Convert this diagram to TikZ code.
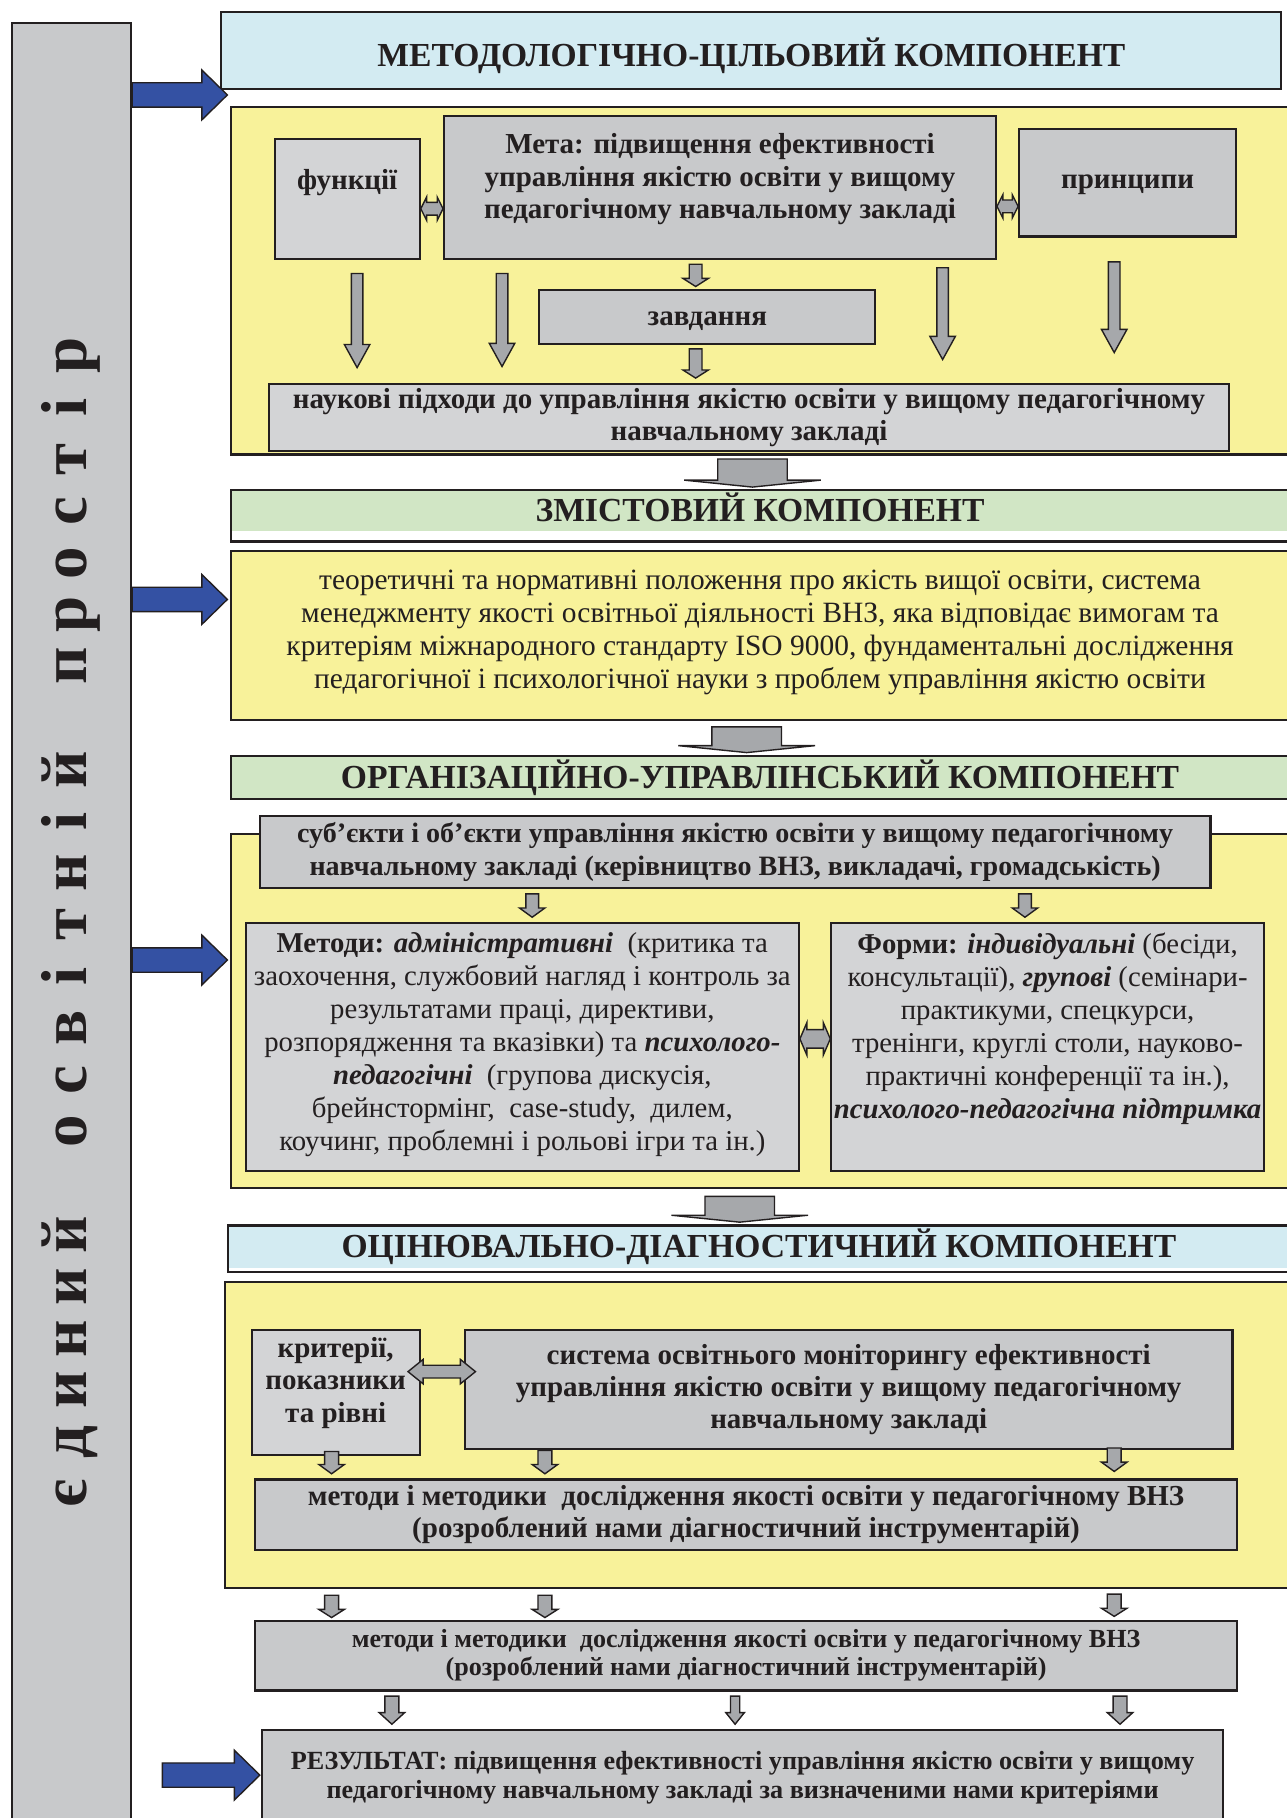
\documentclass[tikz,border=0pt]{standalone}
\usepackage{fontspec}
\setmainfont{Liberation Serif}
\usetikzlibrary{calc}

\definecolor{edge}{HTML}{231F20}
\definecolor{barGray}{HTML}{C8C9CB}
\definecolor{boxGray}{HTML}{C8C9CB}
\definecolor{boxLight}{HTML}{D3D4D6}
\definecolor{titleBlue}{HTML}{D3EBF2}
\definecolor{titleGreen}{HTML}{D1E6C5}
\definecolor{yellowBg}{HTML}{F8F29A}
\definecolor{arrowGray}{HTML}{A6A8AB}
\definecolor{arrowBlue}{HTML}{3451A3}

\newcommand\downarr[5]{%
  \draw[blockarr] let \p1=(#1), \p2=(#2) in
    (\x1-#3,\y1) -- (\x1+#3,\y1) -- (\x1+#3,\y2+#5) -- (\x1+#4,\y2+#5)
    -- (\x1,\y2) -- (\x1-#4,\y2+#5) -- (\x1-#3,\y2+#5) -- cycle;}
\newcommand\rightarr[5]{%
  \draw[bluearr] let \p1=(#1), \p2=(#2) in
    (\x1,\y1-#3) -- (\x2-#5,\y1-#3) -- (\x2-#5,\y1-#4) -- (\x2,\y1)
    -- (\x2-#5,\y1+#4) -- (\x2-#5,\y1+#3) -- (\x1,\y1+#3) -- cycle;}
\newcommand\dblarr[5]{%
  \draw[blockarr] let \p1=(#1), \p2=(#2) in
    (\x1,\y1) -- (\x1+#5,\y1+#4) -- (\x1+#5,\y1+#3) -- (\x2-#5,\y1+#3)
    -- (\x2-#5,\y1+#4) -- (\x2,\y1) -- (\x2-#5,\y1-#4) -- (\x2-#5,\y1-#3)
    -- (\x1+#5,\y1-#3) -- (\x1+#5,\y1-#4) -- cycle;}
\newcommand\vl[1]{\makebox[22.3pt]{#1}}

\begin{document}
\begin{tikzpicture}[x=0.5pt,y=-0.5pt,
  box/.style={draw=edge,line width=0.9pt,text=edge,align=center,inner sep=0pt},
  ttl/.style={box,font=\fontsize{14.5}{17}\selectfont\bfseries,text height=9.6pt,text depth=0pt},
  bg/.style={box,fill=yellowBg},
  gbox/.style={box,fill=boxGray,font=\fontsize{12.5}{14}\selectfont\bfseries},
  lbox/.style={box,fill=boxLight,font=\fontsize{12.5}{14}\selectfont\bfseries},
  txt/.style={font=\fontsize{12.7}{14.25}\selectfont},
  strip/.style 2 args={fill=white,path picture={\fill[#1] (path picture bounding box.north west) rectangle ([yshift=#2]path picture bounding box.south east);}},
  blockarr/.style={draw=edge,fill=arrowGray,line width=0.6pt},
  bluearr/.style={draw=edge,fill=arrowBlue,line width=0.6pt}]
\useasboundingbox (0,0) rectangle (1110,1568);

\node[box,fill=barGray,rotate=90,minimum width=777.5pt,minimum height=51.5pt,font=\fontsize{28}{28}\selectfont\bfseries] (bar) at (61.5,797.5)
  {\vl{є}\vl{д}\vl{и}\vl{н}\vl{и}\vl{й}\vl{}\vl{о}\vl{с}\vl{в}\vl{і}\vl{т}\vl{н}\vl{і}\vl{й}\vl{}\vl{п}\vl{р}\vl{о}\vl{с}\vl{т}\vl{і}\vl{р}};

\node[ttl,fill=titleBlue,minimum width=457pt,minimum height=33.5pt,text height=14.1pt] (t1) at (648,43.5) {МЕТОДОЛОГІЧНО-ЦІЛЬОВИЙ КОМПОНЕНТ};

\node[bg,minimum width=456.5pt,minimum height=150pt] (y1) at (655.5,242) {};
\node[lbox,minimum width=62.5pt,minimum height=51.5pt,text height=5pt,text depth=13pt] (fun) at (299.5,171.5) {функції};
\node[gbox,minimum width=238pt,minimum height=61.5pt] (meta) at (621,161.5) {Мета: підвищення ефективності\\ управління якістю освіти у вищому\\ педагогічному навчальному закладі\\[-4.5pt]\mbox{}};
\node[gbox,minimum width=93.5pt,minimum height=46.5pt,text height=5.5pt,text depth=0pt] (prin) at (972.5,157.5) {принципи};
\node[gbox,minimum width=145pt,minimum height=23.5pt,text height=7pt,text depth=0pt] (zav) at (610,273.5) {завдання};
\node[lbox,minimum width=414pt,minimum height=29pt] (nauk) at (646,360) {наукові підходи до управління якістю освіти у вищому педагогічному\\ навчальному закладі};
\downarr{$(meta.south)+(-10.5pt,-2pt)$}{$(zav.north)+(0pt,1pt)$}{2.75pt}{5.5pt}{3.5pt}
\downarr{$(zav.south)+(-5pt,-1.5pt)$}{$(nauk.north)+(0pt,2pt)$}{2.75pt}{5.5pt}{3.5pt}
\downarr{$(fun.south)+(4.25pt,-6pt)$}{$(nauk.north)+(0pt,6.5pt)$}{2.5pt}{5.5pt}{10pt}
\downarr{$(meta.south)+(-94pt,-6pt)$}{$(nauk.north)+(0pt,7pt)$}{2.5pt}{5.5pt}{10pt}
\downarr{$(meta.south)+(96pt,-3.5pt)$}{$(nauk.north)+(0pt,10pt)$}{2.5pt}{5.5pt}{10pt}
\downarr{$(prin.south)+(-5.75pt,-10.5pt)$}{$(nauk.north)+(0pt,13pt)$}{2.5pt}{5.5pt}{10pt}
\dblarr{$(fun.east)+(0pt,-4.25pt)$}{meta.west}{2.75pt}{5pt}{2.5pt}
\dblarr{$(meta.east)+(0pt,-8.25pt)$}{prin.west}{2.75pt}{5pt}{2.5pt}

\node[ttl,strip={titleGreen}{4.5pt},minimum width=456.5pt,minimum height=22pt,text depth=5pt] (t2) at (655.5,445) {ЗМІСТОВИЙ КОМПОНЕНТ};
\downarr{$(y1.south)+(-3.25pt,-1.5pt)$}{$(t2.north)+(0pt,1pt)$}{15pt}{29.5pt}{3pt}

\node[bg,txt,minimum width=456.5pt,minimum height=73pt] (y2) at (655.5,548) {теоретичні та нормативні положення про якість вищої освіти, система\\ менеджменту якості освітньої діяльності ВНЗ, яка відповідає вимогам та\\ критеріям міжнародного стандарту ISO 9000, фундаментальні дослідження\\ педагогічної і психологічної науки з проблем управління якістю освіти\\[-9.25pt]\mbox{}};

\node[ttl,fill=titleGreen,minimum width=456.5pt,minimum height=18.5pt] (t3) at (655.5,670.5) {ОРГАНІЗАЦІЙНО-УПРАВЛІНСЬКИЙ КОМПОНЕНТ};
\downarr{$(y2.south)+(-5.75pt,-2.5pt)$}{$(t3.north)+(0pt,1pt)$}{15pt}{29.5pt}{3pt}

\node[bg,minimum width=456.5pt,minimum height=153pt] (y3) at (655.5,872) {};
\node[gbox,font=\fontsize{12.1}{14}\selectfont\bfseries,minimum width=410pt,minimum height=31pt] (subj) at (634,735) {суб’єкти і об’єкти управління якістю освіти у вищому педагогічному\\ навчальному закладі (керівництво ВНЗ, викладачі, громадськість)};
\node[lbox,font=\fontsize{12.4}{14.25}\selectfont,minimum width=238.5pt,minimum height=107pt] (meth) at (450.5,903) {\textbf{Методи:} \textbf{\textit{адміністративні}}\ \ (критика та\\ заохочення, службовий нагляд і контроль за\\ результатами праці, директиви,\\ розпорядження та вказівки) та \textbf{\textit{психолого-}}\\ \textbf{\textit{педагогічні}}\ \ (групова дискусія,\\ брейнстормінг,\ \ case-study,\ \ дилем,\\ коучинг, проблемні і рольові ігри та ін.)\\[-9.75pt]\mbox{}};
\node[lbox,font=\fontsize{12.4}{14.25}\selectfont,minimum width=186.5pt,minimum height=107pt] (form) at (903.5,903) {\textbf{Форми:} \textbf{\textit{індивідуальні}} (бесіди,\\ консультації), \textbf{\textit{групові}} (семінари-\\ практикуми, спецкурси,\\ тренінги, круглі столи, науково-\\ практичні конференції та ін.),\\ \textbf{\textit{психолого-педагогічна підтримка}}\\[4.25pt]\mbox{}};
\downarr{$(subj.south)+(-87.5pt,-2pt)$}{$(meth.north)+(0pt,2pt)$}{2.75pt}{5.5pt}{4pt}
\downarr{$(subj.south)+(125pt,-2pt)$}{$(form.north)+(0pt,2pt)$}{2.75pt}{5.5pt}{4pt}
\dblarr{$(meth.east)+(0pt,3.5pt)$}{form.west}{4pt}{7pt}{3pt}

\node[ttl,strip={titleBlue}{1.5pt},minimum width=457.5pt,minimum height=20pt,text depth=2pt] (t4) at (654.5,1077) {ОЦІНЮВАЛЬНО-ДІАГНОСТИЧНИЙ КОМПОНЕНТ};
\downarr{$(y3.south)+(-8.75pt,-3pt)$}{$(t4.north)+(0pt,1pt)$}{15pt}{29.5pt}{3pt}

\node[bg,minimum width=459pt,minimum height=132pt] (y4) at (653,1238) {};
\node[lbox,minimum width=72.5pt,minimum height=54pt] (crit) at (289.5,1201) {критерії,\\ показники\\ та рівні\\[-3pt]\mbox{}};
\node[gbox,minimum width=331pt,minimum height=51.5pt] (sys) at (732,1198.5) {система освітнього моніторингу ефективності\\ управління якістю освіти у вищому педагогічному\\ навчальному закладі};
\node[gbox,minimum width=423.5pt,minimum height=30.5pt] (mm1) at (643.5,1306.5) {методи і методики\ \ дослідження якості освіти у педагогічному ВНЗ\\ (розроблений нами діагностичний інструментарій)};
\downarr{$(crit.south)+(-1.75pt,2pt)$}{$(mm1.north)+(0pt,2pt)$}{3pt}{5.5pt}{4pt}
\downarr{$(sys.south)+(-131pt,0pt)$}{$(mm1.north)+(0pt,2pt)$}{3pt}{5.5pt}{4pt}
\downarr{$(sys.south)+(114.5pt,1pt)$}{$(mm1.north)+(0pt,3pt)$}{3pt}{5.5pt}{4pt}
\dblarr{$(crit.east)+(-5.5pt,9pt)$}{$(sys.west)+(5pt,0pt)$}{2.75pt}{5.25pt}{6.5pt}

\node[gbox,font=\fontsize{11.25}{12}\selectfont\bfseries,minimum width=423.5pt,minimum height=30pt] (mm2) at (643.5,1428) {методи і методики\ \ дослідження якості освіти у педагогічному ВНЗ\\ (розроблений нами діагностичний інструментарій)\\[-9pt]\mbox{}};
\downarr{$(y4.south)+(-183.5pt,-2.5pt)$}{$(mm2.north)+(0pt,1pt)$}{3pt}{5.5pt}{3.5pt}
\downarr{$(y4.south)+(-91.5pt,-2.5pt)$}{$(mm2.north)+(0pt,1pt)$}{3pt}{5.5pt}{3.5pt}
\downarr{$(y4.south)+(154pt,-2pt)$}{$(mm2.north)+(0pt,1.5pt)$}{3pt}{5.5pt}{3.5pt}

\node[gbox,font=\fontsize{11.3}{12.5}\selectfont\bfseries,minimum width=414.5pt,minimum height=41.5pt] (res) at (640.5,1533.5) {РЕЗУЛЬТАТ: підвищення ефективності управління якістю освіти у вищому\\ педагогічному навчальному закладі за визначеними нами критеріями};
\downarr{$(mm2.south)+(-152.75pt,-2pt)$}{$(res.north)+(0pt,2pt)$}{3pt}{5.5pt}{5pt}
\downarr{$(mm2.south)+(-4.75pt,-2pt)$}{$(res.north)+(0pt,2pt)$}{2pt}{4pt}{5pt}
\downarr{$(mm2.south)+(161.25pt,-2pt)$}{$(res.north)+(0pt,2pt)$}{3pt}{5.5pt}{5pt}

\rightarr{$(bar.south |- t1.south)+(0pt,-2pt)$}{$(y1.west |- t1.south)+(-1pt,-2pt)$}{5.25pt}{10.75pt}{11pt}
\rightarr{$(bar.south |- y2.west)+(0pt,15.5pt)$}{$(y2.west)+(-1pt,15.5pt)$}{5.25pt}{10.75pt}{11pt}
\rightarr{$(bar.south |- y3.west)+(0pt,22pt)$}{$(y3.west)+(-1pt,22pt)$}{5.25pt}{10.75pt}{11pt}
\coordinate (b4) at ($(res.west)+(-42.5pt,1.25pt)$);
\rightarr{b4}{$(res.west)+(-0.5pt,1.25pt)$}{5.25pt}{10.75pt}{11pt}
\end{tikzpicture}
\end{document}
